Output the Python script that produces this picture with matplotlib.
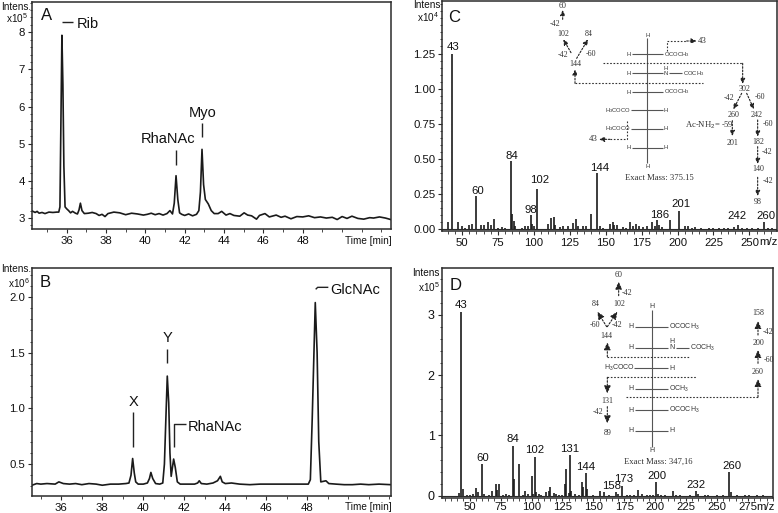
import matplotlib
matplotlib.use('Agg')
import matplotlib.pyplot as plt
from matplotlib.ticker import MultipleLocator

plt.rcParams['font.family'] = ['Liberation Sans', 'DejaVu Sans']
plt.rcParams['mathtext.fontset'] = 'custom'
plt.rcParams['mathtext.rm'] = 'Liberation Sans'
plt.rcParams['mathtext.default'] = 'rm'

W, H = 778, 513
DARK = '#2b2b2b'

# chromatogram A: time [min], intensity x10^5
time_a = [34.25, 34.4, 34.5, 34.6, 34.75, 34.9, 35.1, 35.3, 35.5, 35.6, 35.66, 35.71, 35.76, 35.81, 35.86, 35.92, 36.0,
          36.1, 36.2, 36.3, 36.45, 36.55, 36.63, 36.7, 36.78, 36.9, 37.1, 37.3, 37.5, 37.65, 37.8, 37.95, 38.1, 38.4,
          38.7, 39.0, 39.3, 39.6, 39.9, 40.1, 40.3, 40.5, 40.7, 40.9, 41.1, 41.25, 41.38, 41.47, 41.56, 41.65, 41.74,
          41.85, 42.0, 42.2, 42.4, 42.6, 42.72, 42.8, 42.88, 42.96, 43.05, 43.2, 43.35, 43.5, 43.7, 43.88, 44.1, 44.3,
          44.5, 44.8, 45.02, 45.2, 45.4, 45.65, 45.8, 46.08, 46.3, 46.65, 46.9, 47.1, 47.4, 47.7, 48.0, 48.3, 48.6,
          48.9, 49.2, 49.5, 49.75, 50.0, 50.25, 50.5, 50.8, 51.1, 51.4, 51.6, 51.9, 52.2, 52.47]
int_a = [3.19, 3.15, 3.18, 3.13, 3.15, 3.12, 3.16, 3.15, 3.16, 3.16, 3.3, 5.6, 7.92, 6.6, 4.4, 3.3, 3.25,
         3.2, 3.14, 3.18, 3.13, 3.11, 3.22, 3.4, 3.2, 3.12, 3.13, 3.15, 3.12, 3.07, 3.1, 3.04, 3.12, 3.16,
         3.14, 3.09, 3.13, 3.11, 3.08, 3.1, 3.13, 3.09, 3.12, 3.08, 3.12, 3.2, 3.11, 3.4, 4.14, 3.5, 3.14,
         3.1, 3.07, 3.11, 3.06, 3.1, 3.2, 3.7, 4.85, 3.9, 3.5, 3.38, 3.2, 3.12, 3.12, 3.18, 3.08, 3.12,
         3.07, 3.05, 3.14, 3.08, 3.06, 2.97, 3.07, 3.12, 3.03, 3.08, 3.02, 3.05, 2.98, 3.04, 3.03, 3.06, 3.01,
         3.03, 3.0, 3.02, 2.96, 3.04, 2.99, 3.05, 2.99, 2.97, 3.01, 3.0, 3.03, 3.0, 2.96]

# chromatogram B: time [min], intensity x10^6
time_b = [34.57, 34.8, 35.0, 35.3, 35.7, 35.88, 36.1, 36.4, 36.7, 37.0, 37.35, 37.7, 38.0, 38.4, 38.8, 39.15, 39.3,
          39.4, 39.48, 39.56, 39.63, 39.75, 40.0, 40.2, 40.3, 40.37, 40.46, 40.6, 40.8, 40.95, 41.03, 41.1, 41.17,
          41.24, 41.3, 41.36, 41.48, 41.56, 41.66, 41.8, 42.1, 42.5, 42.65, 42.73, 42.83, 43.1, 43.4, 43.62, 43.76,
          43.85, 44.0, 44.3, 44.7, 45.2, 45.7, 46.2, 46.7, 47.2, 47.7, 48.05, 48.15, 48.24, 48.39, 48.48, 48.56, 48.66,
          48.91, 49.05, 49.4, 49.8, 50.2, 50.6, 51.0, 51.5, 52.07]
int_b = [0.31, 0.325, 0.32, 0.325, 0.32, 0.34, 0.325, 0.32, 0.325, 0.315, 0.325, 0.32, 0.31, 0.32, 0.32, 0.325, 0.33,
         0.4, 0.55, 0.42, 0.34, 0.32, 0.32, 0.33, 0.37, 0.425, 0.37, 0.325, 0.32, 0.33, 0.5, 0.9, 1.29,
         1.05, 0.6, 0.39, 0.545, 0.47, 0.34, 0.32, 0.32, 0.32, 0.33, 0.35, 0.325, 0.32, 0.33, 0.35, 0.39,
         0.34, 0.325, 0.33, 0.32, 0.315, 0.32, 0.32, 0.32, 0.32, 0.32, 0.32, 0.36, 0.9, 1.95, 1.5, 0.7, 0.34,
         0.35, 0.325, 0.32, 0.315, 0.315, 0.32, 0.315, 0.32, 0.315]

# spectrum C: m/z, intensity x10^4
mz_c = [40, 43, 47, 50, 52, 55, 57, 60, 63, 65, 68, 70, 72, 75, 78, 80, 84, 85, 86, 87, 92, 94, 96, 98, 99, 100, 102,
        110, 112, 114, 115, 118, 120, 124, 127, 129, 131, 134, 136, 140, 144, 146, 148, 153, 155, 156, 158, 162, 164,
        167, 169, 171, 173, 176, 179, 182, 184, 186, 187, 189, 195, 201, 205, 207, 210, 212, 216, 222, 225, 229, 232,
        235, 239, 242, 245, 248, 252, 256, 260, 263, 266]
int_c = [0.05, 1.25, 0.05, 0.025, 0.01, 0.03, 0.04, 0.237, 0.03, 0.03, 0.055, 0.03, 0.075, 0.012, 0.015, 0.012, 0.487,
         0.11, 0.06, 0.02, 0.012, 0.02, 0.025, 0.1, 0.04, 0.02, 0.29,
         0.04, 0.08, 0.085, 0.03, 0.015, 0.025, 0.02, 0.045, 0.07, 0.025, 0.025, 0.02, 0.11, 0.398, 0.025, 0.01,
         0.04, 0.05, 0.03, 0.03, 0.015, 0.012, 0.05, 0.02, 0.04, 0.02, 0.015, 0.02, 0.05, 0.02, 0.066, 0.03, 0.015,
         0.065, 0.13, 0.02, 0.02, 0.01, 0.015, 0.01, 0.012, 0.01, 0.012, 0.01, 0.012, 0.015, 0.03, 0.012, 0.01,
         0.01, 0.01, 0.055, 0.01, 0.01]

# spectrum D: m/z, intensity x10^5
mz_d = [41, 43, 45, 48, 50, 53, 55, 57, 60, 62, 66, 68, 71, 72, 74, 77, 79, 82, 85, 86, 90, 93, 95, 97, 100, 101, 103,
        104, 106, 108, 112, 114, 115, 118, 120, 122, 125, 127, 128, 130, 131, 132, 135, 138, 141, 142, 144, 145, 150,
        155, 159, 163, 168, 170, 173, 177, 180, 183, 186, 189, 193, 196, 198, 201, 202, 205, 208, 214, 217, 220, 228,
        233, 235, 240, 243, 250, 255, 260, 261, 266, 273, 276, 282, 287]
int_d = [0.04, 3.05, 0.11, 0.02, 0.02, 0.03, 0.12, 0.06, 0.52, 0.03, 0.02, 0.08, 0.19, 0.1, 0.2, 0.02, 0.03, 0.02,
         0.83, 0.27, 0.52, 0.02, 0.07, 0.03, 0.32, 0.03, 0.65,
         0.06, 0.03, 0.02, 0.06, 0.08, 0.14, 0.05, 0.03, 0.02, 0.02, 0.19, 0.45, 0.05, 0.68, 0.08, 0.03, 0.02, 0.22,
         0.14, 0.37, 0.11, 0.02, 0.07, 0.06, 0.02, 0.06, 0.03, 0.16, 0.02, 0.02, 0.02, 0.09, 0.03, 0.02, 0.02, 0.02,
         0.22, 0.03, 0.02, 0.02, 0.07, 0.02, 0.02, 0.02, 0.07, 0.03, 0.02, 0.02, 0.01, 0.01, 0.39, 0.06, 0.01, 0.02,
         0.02, 0.01, 0.01]

ticks_chrom = [36, 38, 40, 42, 44, 46, 48]
ticks_mz_c = [50, 75, 100, 125, 150, 175, 200, 225, 250]
ticks_mz_d = [50, 75, 100, 125, 150, 175, 200, 225, 250, 275]


def make_axes(left, top, right, bottom):
    ax = fig.add_axes([left / W, 1 - bottom / H, (right - left) / W, (bottom - top) / H])
    for s in ax.spines.values():
        s.set_linewidth(1.1)
        s.set_color(DARK)
    ax.tick_params(which='major', length=3, width=0.8, labelsize=8.2, color=DARK, labelcolor='#111111', pad=2)
    ax.tick_params(which='minor', length=1.8, width=0.6, color=DARK)
    return ax


fig = plt.figure(figsize=(W / 100, H / 100), dpi=100)

ax_a = make_axes(32, 1.5, 390.7, 229)
ax_a.plot(time_a, int_a, color='#1a1a1a', lw=1.2)
ax_a.set_xlim(34.24, 52.47)
ax_a.set_ylim(2.705, 8.83)
ax_a.set_yticks([3, 4, 5, 6, 7, 8])
ax_a.yaxis.set_minor_locator(MultipleLocator(0.2))

ax_b = make_axes(32, 267.7, 390.7, 495.7)
ax_b.plot(time_b, int_b, color='#1a1a1a', lw=1.2)
ax_b.set_xlim(34.57, 52.07)
ax_b.set_ylim(0.216, 2.263)
ax_b.set_yticks([0.5, 1.0, 1.5, 2.0])
ax_b.set_yticklabels(['0.5', '1.0', '1.5', '2.0'])
ax_b.yaxis.set_minor_locator(MultipleLocator(0.1))

for ax in (ax_a, ax_b):
    ax.set_xticks(ticks_chrom)
    ax.xaxis.set_minor_locator(MultipleLocator(1))

ax_c = make_axes(442.3, 1.5, 776.7, 231)
ax_c.vlines(mz_c, 0, int_c, color='#1a1a1a', lw=1.2)
ax_c.axhline(0, color=DARK, lw=0.8)
ax_c.set_xlim(36.3, 269)
ax_c.set_ylim(-0.012, 1.62)
ax_c.set_xticks(ticks_mz_c)
ax_c.set_yticks([0, 0.25, 0.5, 0.75, 1.0, 1.25])
ax_c.set_yticklabels(['0.00', '0.25', '0.50', '0.75', '1.00', '1.25'])
ax_c.xaxis.set_minor_locator(MultipleLocator(5))
ax_c.yaxis.set_minor_locator(MultipleLocator(0.05))

ax_d = make_axes(441.7, 268.3, 772.7, 497.7)
ax_d.vlines(mz_d, 0, int_d, color='#1a1a1a', lw=1.2)
ax_d.axhline(0, color=DARK, lw=0.8)
ax_d.set_xlim(27.4, 295)
ax_d.set_ylim(-0.033, 3.77)
ax_d.set_xticks(ticks_mz_d)
ax_d.set_yticks([0, 1, 2, 3])
ax_d.xaxis.set_minor_locator(MultipleLocator(5))
ax_d.yaxis.set_minor_locator(MultipleLocator(0.2))
ax_d.tick_params(axis='x', which='major', length=2.2, pad=0.6)
ax_d.tick_params(axis='y', which='major', labelsize=9)

# overlay in image pixels for labels and the structure sketches
ov = fig.add_axes([0, 0, 1, 1], zorder=10)
ov.set_xlim(0, W)
ov.set_ylim(H, 0)
ov.axis('off')
ov.patch.set_alpha(0)


class Zoomed:
    def __init__(self, x0, y0, head=0.14):
        self.x0, self.y0 = x0, y0
        self.head = head

    def p(self, x, y):
        return self.x0 + x / 3, self.y0 + y / 3

    def t(self, x, y, s, size=10.5, fam=None, color='#111111', ha='center'):
        px, py = self.p(x, y)
        ov.text(px, py, s, fontsize=size, ha=ha, va='center', color=color,
                family=fam if fam else ['Liberation Sans', 'DejaVu Sans'])

    def line(self, pts, lw=1.0, color='#222222', ls='-'):
        xs = [self.p(*q)[0] for q in pts]
        ys = [self.p(*q)[1] for q in pts]
        ov.plot(xs, ys, color=color, lw=lw, ls=ls, solid_capstyle='butt')

    def dots(self, pts):
        self.line(pts, lw=0.8, color='#333333', ls=(0, (1.5, 1.5)))

    def arrow(self, a, b):
        style = '-|>,head_width=%.2f,head_length=%.2f' % (self.head, self.head * 2.2)
        ov.annotate('', xy=self.p(*b), xytext=self.p(*a),
                    arrowprops=dict(arrowstyle=style, color='#222222', lw=0.8,
                                    ls=(0, (1.5, 1.5)), shrinkA=0, shrinkB=0))


SERIF = 'Liberation Serif'
GREY = '#555555'
INK = '#333333'

za = Zoomed(0, 0)
za.t(50, 22, 'Intens.', 7.2)
za.t(50, 55, 'x10$^5$', 7.2)
za.t(140, 47, 'A', 12)
za.t(263, 72, 'Rib')
za.line([(187, 65), (220, 65)])
za.t(505, 418, 'RhaNAc')
za.line([(528, 450), (528, 495)])
za.t(607, 338, 'Myo')
za.line([(607, 368), (607, 412)])
za.t(1105, 722, 'Time [min]', 7.2)

zb = Zoomed(0, 255)
zb.t(50, 43, 'Intens.', 7.2)
zb.t(58, 85, 'x10$^6$', 7.2)
zb.t(137, 82, 'B', 12)
zb.t(1065, 105, 'GlcNAc')
zb.line([(947, 103), (953, 97), (985, 97)])
zb.t(502, 250, 'Y')
zb.line([(502, 282), (502, 325)])
zb.t(402, 440, 'X')
zb.line([(400, 472), (400, 575)])
zb.t(645, 516, 'RhaNAc')
zb.line([(521, 575), (521, 508), (557, 508)])
zb.t(1105, 755, 'Time [min]', 7.2)

zc = Zoomed(400, 0)
zc.t(80, 15, 'Intens', 7.2)
zc.t(85, 52, 'x10$^4$', 7.2)
zc.t(163, 52, 'C', 12)
for x, y, s in [(160, 142, '43'), (233, 573, '60'), (337, 467, '84'), (392, 630, '98'), (418, 540, '102'),
                (600, 505, '144'), (780, 645, '186'), (842, 612, '201'), (1012, 648, '242'), (1097, 648, '260')]:
    zc.t(x, y, s, 8.2)
zc.t(1105, 727, 'm/z', 8.2)

# structure in panel C
for x, y, s in [(488, 17, '60'), (465, 71, '-42'), (490, 101, '102'), (566, 101, '84'), (490, 165, '-42'),
                (572, 163, '-60'), (525, 192, '144'), (1033, 266, '302'), (988, 294, '-42'), (1080, 292, '-60'),
                (1002, 344, '260'), (1070, 344, '242'), (998, 428, '201'), (1105, 373, '-60'), (1075, 425, '182'),
                (1102, 456, '-42'), (1075, 508, '140'), (1103, 544, '-42'), (1073, 605, '98')]:
    zc.t(x, y, s, 5.8, SERIF, INK)
zc.t(908, 123, '43', 6.4, SERIF, INK)
zc.t(580, 418, '43', 6.4, SERIF, INK)
zc.t(778, 535, 'Exact Mass: 375.15', 6.2, SERIF, INK)
zc.t(928, 375, 'Ac-NH$_2$= -59', 6.2, SERIF, INK)
zc.line([(742, 115), (742, 490)], 0.8, GREY)
zc.t(742, 106, 'H', 4.2, color=INK)
zc.t(742, 498, 'H', 4.2, color=INK)
for y, left, right in [(163, 'H', 'OCOCH$_3$'), (276, 'H', 'OCOCH$_3$'), (443, 'H', 'H')]:
    zc.t(686, y, left, 4.2, color=INK)
    zc.line([(697, y), (790, y)], 0.8, GREY)
    zc.t(792, y, right, 4.2, color=INK, ha='left')
zc.t(686, 220, 'H', 4.2, color=INK)
zc.line([(697, 220), (790, 220)], 0.8, GREY)
zc.t(797, 220, 'N', 4.2, color=INK)
zc.t(797, 204, 'H', 4.2, color=INK)
zc.line([(806, 220), (845, 220)], 0.8, GREY)
zc.t(848, 220, 'COCH$_3$', 4.2, color=INK, ha='left')
for y in (331, 387):
    zc.t(655, y, 'H$_3$COCO', 4.2, color=INK)
    zc.line([(693, y), (790, y)], 0.8, GREY)
    zc.t(797, y, 'H', 4.2, color=INK)
zc.arrow((488, 58), (488, 30))
zc.arrow((513, 158), (490, 118))
zc.arrow((530, 175), (564, 118))
zc.arrow((525, 250), (525, 208))
zc.dots([(525, 250), (908, 250)])
zc.dots([(610, 190), (1028, 190)])
zc.arrow((1028, 190), (1028, 252))
zc.dots([(802, 153), (802, 123), (860, 123)])
zc.arrow((860, 123), (890, 123))
zc.dots([(680, 362), (680, 418), (630, 418)])
zc.arrow((630, 418), (597, 418))
zc.arrow((1025, 280), (1000, 328))
zc.arrow((1040, 280), (1062, 328))
zc.arrow((997, 362), (997, 408))
zc.arrow((1073, 360), (1073, 410))
zc.arrow((1073, 440), (1073, 492))
zc.arrow((1073, 532), (1073, 588))

zd = Zoomed(400, 255, head=0.2)
zd.t(78, 53, 'Intens', 7.2)
zd.t(88, 95, 'x10$^5$', 7.2)
zd.t(168, 90, 'D', 12)
for x, y, s in [(183, 150, '43'), (248, 608, '60'), (340, 552, '84'), (403, 586, '102'), (510, 581, '131'),
                (558, 636, '144'), (636, 692, '158'), (672, 673, '173'), (772, 664, '200'), (888, 690, '232'),
                (995, 633, '260')]:
    zd.t(x, y, s, 8.2)
zd.t(1095, 757, 'm/z', 8.2)

# structure in panel D
for x, y, s in [(656, 60, '60'), (682, 114, '-42'), (586, 147, '84'), (657, 147, '102'), (586, 211, '-60'),
                (652, 211, '-42'), (618, 243, '144'), (622, 439, '131'), (594, 471, '-42'), (622, 533, '89'),
                (1074, 350, '260'), (1107, 316, '-60'), (1074, 263, '200'), (1105, 231, '-42'), (1074, 175, '158')]:
    zd.t(x, y, s, 5.8, SERIF, INK)
zd.t(775, 619, 'Exact Mass: 347,16', 6.2, SERIF, INK)
zd.line([(755, 165), (755, 575)], 0.8, GREY)
zd.t(755, 155, 'H', 5, color=INK)
zd.t(755, 586, 'H', 5, color=INK)
for y, right in [(215, 'OCOCH$_3$'), (402, 'OCH$_3$'), (465, 'OCOCH$_3$'), (527, 'H')]:
    zd.t(692, y, 'H', 5, color=INK)
    zd.line([(705, y), (805, y)], 0.8, GREY)
    zd.t(808, y, right, 5, color=INK, ha='left')
zd.t(692, 278, 'H', 5, color=INK)
zd.line([(705, 278), (805, 278)], 0.8, GREY)
zd.t(816, 278, 'N', 5, color=INK)
zd.t(816, 260, 'H', 5, color=INK)
zd.line([(828, 278), (868, 278)], 0.8, GREY)
zd.t(871, 278, 'COCH$_3$', 5, color=INK, ha='left')
zd.t(657, 340, 'H$_3$COCO', 5, color=INK)
zd.line([(703, 340), (805, 340)], 0.8, GREY)
zd.t(816, 340, 'H', 5, color=INK)
zd.arrow((656, 122), (656, 80))
zd.arrow((620, 215), (592, 170))
zd.arrow((622, 215), (652, 170))
zd.arrow((622, 305), (622, 262))
zd.dots([(622, 306), (868, 306)])
zd.dots([(620, 367), (888, 367)])
zd.arrow((622, 367), (622, 415))
zd.arrow((622, 455), (622, 505))
zd.dots([(678, 426), (1074, 426)])
zd.arrow((1074, 426), (1074, 372))
zd.arrow((1074, 325), (1074, 285))
zd.arrow((1074, 240), (1074, 198))

fig.savefig('out.png', dpi=100)
